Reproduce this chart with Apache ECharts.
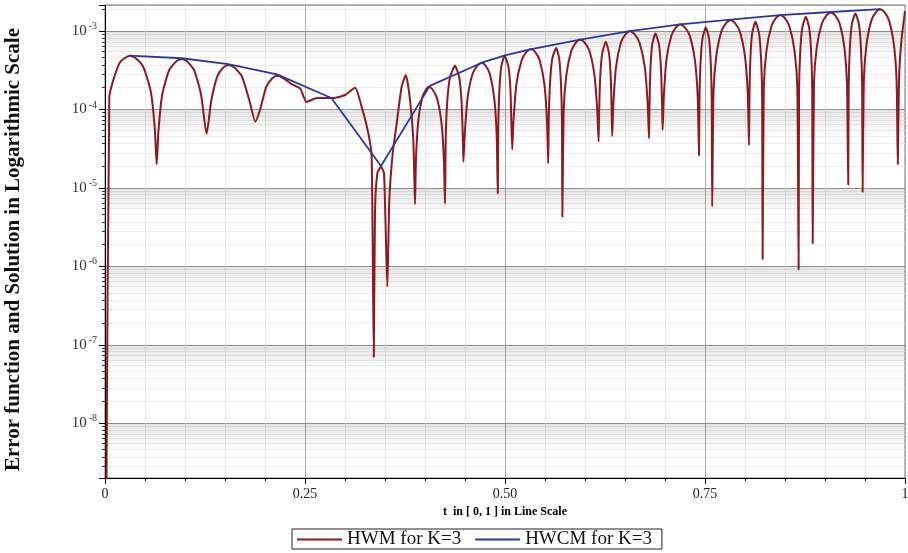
<!DOCTYPE html>
<html lang="en">
<head>
  <meta charset="UTF-8">
  <title>HWM / HWCM error</title>
  <script src="https://cdn.jsdelivr.net/npm/echarts@6/dist/echarts.min.js"></script>
  <style>
    html, body { margin: 0; padding: 0; background: #fff; }
    #chart { width: 908px; height: 553px; }
  </style>
</head>
<body>
  <div id="chart"></div>
  <script type="text/javascript">
    // HWM error (t, value)
    var hwm = [
      [0.0015, 5e-10], [0.0054, 1.44e-4], [0.0104, 2.37e-4], [0.0188, 4.0e-4],
      [0.031, 4.85e-4], [0.0384, 4.5e-4], [0.0478, 3.5e-4], [0.0572, 1.7e-4], [0.0622, 5.8e-5],
      [0.0646, 2.0e-5],
      [0.0668, 5.3e-5], [0.0715, 1.54e-4], [0.0802, 3.17e-4], [0.0889, 4.1e-4], [0.0958, 4.4e-4],
      [0.1027, 4.1e-4], [0.1114, 3.17e-4], [0.1201, 1.54e-4],
      [0.127, 4.9e-5],
      [0.1329, 1.3e-4], [0.1405, 2.66e-4], [0.1481, 3.44e-4], [0.154, 3.7e-4],
      [0.1615, 3.44e-4], [0.171, 2.66e-4], [0.1805, 1.3e-4],
      [0.188, 7.0e-5],
      [0.1939, 1.0e-4], [0.2015, 1.94e-4], [0.2091, 2.5e-4], [0.215, 2.7e-4],
      [0.2231, 2.5e-4], [0.2335, 2.1e-4], [0.244, 1.85e-4],
      [0.252, 1.25e-4],
      [0.265, 1.4e-4], [0.285, 1.4e-4], [0.3, 1.53e-4], [0.3125, 1.9e-4],
      [0.3208, 1.08e-4], [0.3292, 4.95e-5], [0.3333, 2.5e-5],
      [0.336, 7e-8],
      [0.3375, 5e-6], [0.3404, 1.53e-5], [0.345, 1.86e-5], [0.3488, 1.53e-5],
      [0.3529, 5.5e-7],
      [0.3554, 7e-6], [0.3596, 2.75e-5], [0.3646, 6.6e-5], [0.3708, 1.95e-4], [0.376, 2.75e-4],
      [0.3813, 1.32e-4], [0.3854, 4.1e-5],
      [0.3875, 6.2e-6],
      [0.3887, 2.3e-5], [0.3914, 6.8e-5], [0.3963, 1.4e-4], [0.4012, 1.8e-4], [0.405, 1.95e-4],
      [0.4094, 1.8e-4], [0.415, 1.4e-4], [0.4206, 6.8e-5], [0.4236, 2.3e-5],
      [0.425, 6.3e-6],
      [0.4259, 4.3e-5], [0.4278, 1.26e-4], [0.4313, 2.6e-4], [0.4375, 3.6e-4],
      [0.4427, 2.6e-4], [0.4457, 1.26e-4], [0.4473, 4.3e-5],
      [0.448, 2.15e-5],
      [0.4496, 4.7e-5], [0.4531, 1.38e-4], [0.4595, 2.85e-4], [0.4659, 3.67e-4], [0.471, 3.95e-4],
      [0.4754, 3.67e-4], [0.481, 2.85e-4], [0.4866, 1.38e-4], [0.4896, 4.7e-5],
      [0.491, 8.5e-6],
      [0.4916, 5.9e-5], [0.4929, 1.7e-4], [0.4953, 3.5e-4], [0.4995, 4.85e-4],
      [0.5043, 3.5e-4], [0.5069, 1.7e-4],
      [0.509, 3.1e-5],
      [0.5106, 7.1e-5], [0.5142, 2.07e-4], [0.5208, 4.25e-4], [0.5273, 5.5e-4], [0.5325, 5.9e-4],
      [0.5372, 5.5e-4], [0.5433, 4.25e-4], [0.5493, 2.07e-4], [0.5525, 7.1e-5],
      [0.554, 2.05e-5],
      [0.5547, 7.3e-5], [0.5562, 2.1e-4], [0.559, 4.4e-4], [0.564, 6.1e-4],
      [0.5678, 4.4e-4], [0.57, 2.1e-4], [0.5712, 7.3e-5],
      [0.5717, 4.3e-6],
      [0.5733, 9.4e-5], [0.5766, 2.7e-4], [0.5829, 5.6e-4], [0.5891, 7.25e-4], [0.594, 7.8e-4],
      [0.5991, 7.25e-4], [0.6055, 5.6e-4], [0.6119, 2.7e-4], [0.6154, 9.4e-5],
      [0.617, 3.9e-5],
      [0.6176, 8.8e-5], [0.619, 2.55e-4], [0.6215, 5.2e-4], [0.626, 7.3e-4],
      [0.63, 5.2e-4], [0.6322, 2.55e-4], [0.6334, 8.8e-5],
      [0.634, 4.6e-5],
      [0.6355, 1.2e-4], [0.6388, 3.5e-4], [0.645, 7.2e-4], [0.6512, 9.3e-4], [0.656, 1.0e-3],
      [0.6613, 9.3e-4], [0.668, 7.2e-4], [0.6747, 3.5e-4], [0.6783, 1.2e-4],
      [0.68, 4.3e-5],
      [0.6806, 1.1e-4], [0.6818, 3.25e-4], [0.684, 6.7e-4], [0.688, 9.3e-4],
      [0.6925, 6.7e-4], [0.695, 3.25e-4], [0.6964, 1.1e-4],
      [0.697, 5.5e-5],
      [0.6985, 1.46e-4], [0.7018, 4.3e-4], [0.708, 8.8e-4], [0.7142, 1.13e-3], [0.719, 1.22e-3],
      [0.7242, 1.13e-3], [0.7308, 8.8e-4], [0.7373, 4.3e-4], [0.7409, 1.46e-4],
      [0.7425, 2.6e-5],
      [0.7431, 1.33e-4], [0.7444, 3.9e-4], [0.7468, 8.0e-4], [0.751, 1.11e-3],
      [0.755, 8.0e-4], [0.7572, 3.9e-4], [0.7584, 1.33e-4],
      [0.759, 5.8e-6],
      [0.7606, 1.66e-4], [0.7641, 4.8e-4], [0.7705, 9.9e-4], [0.7769, 1.28e-3], [0.782, 1.38e-3],
      [0.7871, 1.28e-3], [0.7935, 9.9e-4], [0.7999, 4.8e-4], [0.8034, 1.66e-4],
      [0.805, 3.5e-5],
      [0.8056, 1.57e-4], [0.8068, 4.6e-4], [0.809, 9.4e-4], [0.813, 1.31e-3],
      [0.8175, 9.4e-4], [0.82, 4.6e-4], [0.8214, 1.57e-4],
      [0.822, 1.23e-6],
      [0.8235, 1.9e-4], [0.8268, 5.6e-4], [0.833, 1.15e-3], [0.8392, 1.49e-3], [0.844, 1.6e-3],
      [0.8491, 1.49e-3], [0.8555, 1.15e-3], [0.8619, 5.6e-4], [0.8654, 1.9e-4],
      [0.867, 9.1e-7],
      [0.8676, 1.8e-4], [0.869, 5.3e-4], [0.8715, 1.09e-3], [0.876, 1.52e-3],
      [0.8803, 1.09e-3], [0.8827, 5.3e-4], [0.884, 1.8e-4],
      [0.8846, 1.95e-6],
      [0.8862, 2.1e-4], [0.8896, 6.1e-4], [0.8961, 1.25e-3], [0.9025, 1.61e-3], [0.9075, 1.73e-3],
      [0.9122, 1.61e-3], [0.9183, 1.25e-3], [0.9243, 6.1e-4], [0.9275, 2.1e-4],
      [0.929, 1.1e-5],
      [0.9296, 2.0e-4], [0.931, 5.9e-4], [0.9335, 1.21e-3], [0.938, 1.68e-3],
      [0.9425, 1.21e-3], [0.945, 5.9e-4], [0.9464, 2.0e-4],
      [0.947, 8.9e-6],
      [0.9485, 2.3e-4], [0.9518, 6.6e-4], [0.958, 1.37e-3], [0.9642, 1.77e-3], [0.969, 1.9e-3],
      [0.9738, 1.77e-3], [0.98, 1.37e-3], [0.9862, 6.6e-4], [0.9895, 2.3e-4],
      [0.991, 2.0e-5],
      [0.9925, 2.4e-4], [0.9955, 7.5e-4], [1.0, 1.8e-3]
    ];

    // HWCM curve
    var hwcm = [
      [0.031, 4.85e-4], [0.096, 4.5e-4], [0.154, 3.8e-4], [0.215, 2.8e-4], [0.283, 1.4e-4],
      [0.345, 1.9e-5], [0.406, 2.0e-4], [0.471, 3.95e-4], [0.5, 4.9e-4], [0.533, 5.9e-4],
      [0.594, 7.8e-4], [0.656, 1.0e-3], [0.719, 1.22e-3], [0.782, 1.4e-3], [0.844, 1.6e-3],
      [0.9075, 1.75e-3], [0.969, 1.9e-3]
    ];

    var xTickLabels = { '0': '0', '0.25': '0.25', '0.5': '0.50', '0.75': '0.75', '1': '1' };
    var yDecades = [1e-3, 1e-4, 1e-5, 1e-6, 1e-7, 1e-8];
    var serif = 'Liberation Serif';

    // grey shading just under each decade line
    var bands = [];
    for (var i = 0; i < yDecades.length; i++) {
      bands.push([{ xAxis: 0, yAxis: yDecades[i] }, { xAxis: 1, yAxis: yDecades[i] * 0.45 }]);
    }

    var myChart = echarts.init(document.getElementById('chart'));
    var option = {
      animation: false,
      backgroundColor: '#fff',
      grid: {
        left: 105, right: 3, top: 5, bottom: 75,
        outerBoundsMode: 'none',
        show: true, borderColor: '#777', borderWidth: 1, backgroundColor: '#fff'
      },
      legend: {
        bottom: 4,
        left: 292,
        icon: 'rect',
        itemWidth: 45,
        itemHeight: 2,
        itemGap: 14,
        padding: [1, 10, 0, 5],
        borderColor: '#222',
        borderWidth: 1,
        textStyle: { fontFamily: serif, fontSize: 19, color: '#111' },
        data: ['HWM for K=3', 'HWCM for K=3']
      },
      xAxis: {
        type: 'value',
        min: 0,
        max: 1,
        interval: 0.25,
        name: 't  in [ 0, 1 ] in Line Scale',
        nameLocation: 'middle',
        nameGap: 28,
        nameTextStyle: { fontFamily: serif, fontWeight: 'bold', fontSize: 12, color: '#000' },
        axisLine: { show: true, lineStyle: { color: '#000', width: 1 } },
        axisTick: { show: true, length: 6, lineStyle: { color: '#000' } },
        minorTick: { show: true, splitNumber: 5, length: 3, lineStyle: { color: '#000' } },
        axisLabel: {
          margin: 9,
          fontFamily: serif,
          fontSize: 14,
          color: '#222',
          formatter: function (v) { return xTickLabels[String(v)] || ''; }
        },
        splitLine: { show: true, lineStyle: { color: '#a9a9a9', width: 1 } },
        minorSplitLine: { show: true, lineStyle: { color: '#e6e6e6', width: 1 } }
      },
      yAxis: {
        type: 'log',
        logBase: 10,
        min: 2e-9,
        max: 2.15e-3,
        name: 'Error function and Solution in Logarithmic Scale',
        nameLocation: 'middle',
        nameGap: 81,
        nameTextStyle: {
          fontFamily: serif, fontWeight: 'bold', fontSize: 21, color: '#111',
          padding: [0, 16, 0, 0]
        },
        axisLine: { show: true, lineStyle: { color: '#000', width: 1 } },
        axisTick: { show: true, length: 6, lineStyle: { color: '#000' } },
        minorTick: { show: true, splitNumber: 10, length: 3, lineStyle: { color: '#333' } },
        axisLabel: {
          showMinLabel: false,
          showMaxLabel: false,
          margin: 8,
          formatter: function (v) {
            var e = Math.round(Math.log(v) / Math.LN10);
            return '{b|10}{s|' + e + '}';
          },
          rich: {
            b: { fontFamily: serif, fontSize: 15, color: '#333' },
            s: { fontFamily: serif, fontSize: 10, color: '#333', padding: [0, 0, 9, 2] }
          }
        },
        splitLine: { show: true, lineStyle: { color: '#9c9c9c', width: 1 } },
        minorSplitLine: { show: true, lineStyle: { color: '#ededed', width: 1 } }
      },
      series: [
        {
          name: 'HWM for K=3',
          type: 'line',
          data: hwm,
          showSymbol: false,
          symbol: 'none',
          smooth: 0.2,
          color: '#8b1a22',
          lineStyle: { color: '#8b1a22', width: 2 },
          markArea: {
            silent: true,
            itemStyle: {
              color: {
                type: 'linear', x: 0, y: 0, x2: 0, y2: 1,
                colorStops: [
                  { offset: 0, color: 'rgba(0,0,0,0.10)' },
                  { offset: 1, color: 'rgba(0,0,0,0)' }
                ]
              }
            },
            data: bands
          },
          z: 2
        },
        {
          name: 'HWCM for K=3',
          type: 'line',
          data: hwcm,
          showSymbol: false,
          symbol: 'none',
          color: '#2a3a9c',
          lineStyle: { color: '#2a3a9c', width: 1.8 },
          z: 3
        }
      ]
    };
    option && myChart.setOption(option);
  </script>
</body>
</html>
